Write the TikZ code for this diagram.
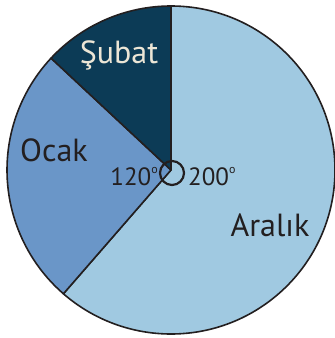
\documentclass[tikz,border=0pt]{standalone}
\usepackage{fontspec}
\setmainfont{PT Sans}
\definecolor{aralik}{RGB}{160,201,225}
\definecolor{ocak}{RGB}{106,150,200}
\definecolor{subat}{RGB}{12,59,86}
\definecolor{ink}{RGB}{35,31,32}
\definecolor{cream}{RGB}{236,230,214}
\tikzset{
  slice/.style={draw=ink,line width=1.6pt,line join=round},
  month/.style={inner sep=0pt,text=ink,font=\fontsize{32}{32}\selectfont},
  degree/.style={inner sep=0pt,text=ink,font=\fontsize{25}{25}\selectfont}
}
\newcommand{\dg}{\raisebox{0.9ex}{\fontsize{12}{12}\selectfont o}}
\begin{document}
\begin{tikzpicture}[x=1pt,y=1pt]
\useasboundingbox (-171,-168) rectangle (164,170);
\coordinate (o) at (0,0);
\filldraw[slice,fill=aralik] (o) -- (90:164) arc (90:-131:164) -- cycle;
\filldraw[slice,fill=ocak] (o) -- (137:164) arc (137:229:164) -- cycle;
\filldraw[slice,fill=subat] (o) -- (90:164) arc (90:137:164) -- cycle;
\draw[slice,line width=2.2pt] (1,-3) circle (12);
\node[month,text=cream] (sub) at (-52,115) {Şubat};
\node[month] (oca) at (-117,20) {Ocak};
\node[month] (ara) at (99,-55) {Aralık};
\node[degree,anchor=base east] (d120) at (-13,-15) {120\dg};
\node[degree,anchor=base west] (d200) at (17,-15) {200\dg};
\end{tikzpicture}
\end{document}
